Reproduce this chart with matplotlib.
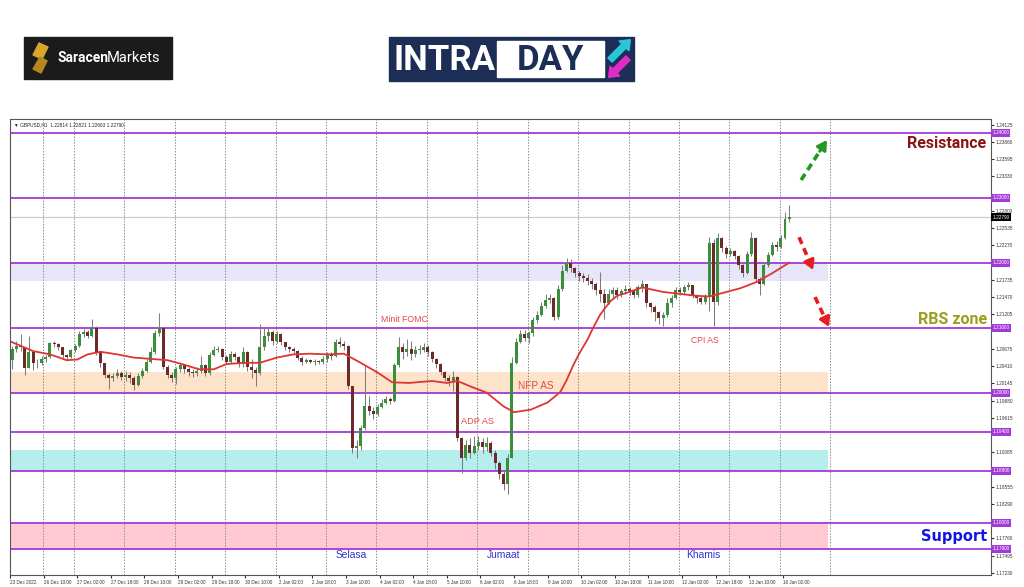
import numpy as np
import matplotlib
matplotlib.use("Agg")
import matplotlib.pyplot as plt
from matplotlib.patches import Rectangle, Polygon, FancyArrow

close_pips = [67, 72, 70, 38, 62, 45, 45, 52, 55, 76,
              75, 70, 58, 55, 65, 72, 90, 94, 88, 100,
              62, 45, 28, 22, 26, 30, 24, 28, 22, 12,
              26, 34, 48, 62, 92, 100, 40, 28, 22, 36,
              42, 36, 32, 30, 34, 42, 30, 58, 66, 68,
              55, 48, 60, 55, 44, 62, 40, 35, 30, 70,
              88, 94, 80, 90, 78, 70, 68, 64, 54, 48,
              50, 48, 49, 47, 52, 58, 56, 78, 75, 72,
              10, -85, -82, -55, -20, -28, -32, -22, -16, -10,
              -12, 42, 70, 62, 68, 60, 66, 66, 70, 62,
              52, 44, 32, 22, 18, 24, -70, -100, -80, -92,
              -82, -76, -84, -78, -92, -108, -125, -140, -100, 46,
              78, 90, 84, 92, 112, 120, 134, 142, 146, 116,
              160, 188, 200, 192, 184, 180, 176, 172, 168, 158,
              152, 138, 152, 158, 150, 156, 160, 156, 150, 162,
              168, 138, 132, 124, 115, 120, 138, 145, 158, 155,
              162, 165, 150, 145, 140, 148, 230, 140, 238, 222,
              214, 218, 210, 196, 184, 214, 238, 175, 168, 196,
              212, 228, 224, 238, 268, 270]
high_pips = [72, 80, 90, 70, 88, 64, 52, 56, 58, 78,
             80, 77, 70, 60, 68, 75, 95, 98, 97, 113,
             102, 62, 46, 30, 31, 36, 34, 33, 32, 26,
             30, 38, 52, 70, 96, 123, 100, 42, 32, 40,
             46, 44, 40, 36, 40, 56, 44, 62, 72, 72,
             69, 58, 64, 62, 56, 70, 64, 52, 40, 105,
             100, 100, 97, 95, 92, 78, 72, 70, 66, 56,
             53, 52, 52, 51, 56, 62, 62, 82, 85, 80,
             74, 10, -72, -50, 41, -5, -22, -18, -10, -5,
             -6, 46, 85, 76, 82, 80, 72, 74, 76, 74,
             64, 54, 46, 34, 28, 33, 26, -68, -72, -70,
             -67, -67, -70, -68, -75, -88, -105, -120, -95, 55,
             84, 96, 97, 95, 116, 126, 140, 152, 152, 148,
             166, 196, 208, 205, 194, 188, 184, 182, 176, 170,
             185, 160, 160, 162, 162, 160, 166, 162, 160, 166,
             174, 168, 140, 135, 126, 124, 146, 150, 162, 163,
             166, 170, 166, 152, 150, 152, 240, 236, 245, 240,
             225, 222, 220, 212, 198, 218, 248, 240, 178, 200,
             216, 232, 233, 242, 278, 289]
low_pips = [36, 62, 64, 28, 38, 35, 38, 42, 48, 53,
            71, 66, 54, 50, 53, 63, 70, 86, 84, 86,
            58, 40, 22, 5, 18, 22, 20, 18, 15, 4,
            10, 22, 32, 46, 60, 88, 36, 22, 16, 13,
            32, 30, 26, 24, 26, 30, 25, 28, 56, 62,
            50, 44, 46, 50, 40, 40, 34, 22, 10, 28,
            65, 80, 74, 76, 74, 66, 62, 60, 50, 42,
            46, 45, 42, 44, 44, 48, 50, 55, 70, 66,
            5, -92, -100, -88, -58, -35, -40, -36, -24, -18,
            -18, -14, 40, 52, 56, 50, 55, 60, 62, 56,
            48, 38, 28, 18, 10, 3, -74, -123, -104, -100,
            -95, -88, -92, -90, -98, -118, -132, -150, -156, -100,
            44, 76, 80, 77, 88, 108, 118, 130, 138, 112,
            114, 156, 185, 186, 178, 172, 170, 166, 160, 150,
            140, 113, 136, 146, 144, 148, 152, 150, 146, 148,
            155, 132, 124, 110, 106, 102, 116, 132, 144, 150,
            152, 158, 146, 138, 136, 136, 125, 102, 135, 216,
            208, 210, 206, 190, 178, 182, 210, 170, 150, 165,
            194, 210, 218, 222, 236, 262]
first_open_pips = 50

# red moving average, read at a few hours
ma_hours = [0.8, 11, 19, 27, 32, 37, 43, 51, 59, 67, 75, 82, 90, 97, 103, 111, 119,
            127, 135, 143, 151, 159, 167, 175, 182, 190, 201, 208, 213, 219, 227, 235,
            240, 248, 256, 262, 265, 268, 271, 275, 278, 281, 284, 286, 289, 294, 301,
            311, 319, 327, 333, 340, 348, 356, 363, 371]
ma_price = [1.2078, 1.2064, 1.2059, 1.2050, 1.2051, 1.2059, 1.2063, 1.2059, 1.2054,
            1.2052, 1.2050, 1.2044, 1.2036, 1.2036, 1.2044, 1.2046, 1.2046, 1.2054,
            1.2059, 1.2060, 1.2059, 1.2060, 1.2046, 1.2031, 1.2016, 1.2015, 1.2018,
            1.2015, 1.2018, 1.2010, 1.2000, 1.1979, 1.1970, 1.1974, 1.1985, 1.2001,
            1.2019, 1.2041, 1.2060, 1.2082, 1.2102, 1.2120, 1.2133, 1.2141, 1.2149,
            1.2154, 1.2162, 1.2155, 1.2152, 1.2149, 1.2148, 1.2154, 1.2161, 1.2171,
            1.2184, 1.2200]

levels = [1.24, 1.23, 1.22, 1.21, 1.20, 1.194, 1.188, 1.18, 1.176]
zone_low = [1.2172, 1.2000, 1.1880, 1.1760]
zone_high = [1.2200, 1.2032, 1.1912, 1.1800]
zone_colors = ['#e6e6f8', '#fde3c9', '#b6eeee', '#ffc8d2']
last_price = 1.2270
last_label = '1.22790'

# price scale labels (those hidden under the level boxes are left out)
price_ticks = [1.17230, 1.17495, 1.17760, 1.18290, 1.18555, 1.19085,
               1.19615, 1.19880, 1.20145, 1.20410, 1.20675, 1.21205,
               1.21470, 1.21735, 1.22270, 1.22535, 1.22800, 1.23330,
               1.23595, 1.23860, 1.24125]
time_labels = ['23 Dec 2022', '26 Dec 10:00', '27 Dec 02:00', '27 Dec 18:00', '28 Dec 10:00',
               '29 Dec 02:00', '29 Dec 18:00', '30 Dec 10:00', '2 Jan 02:00', '2 Jan 18:00',
               '3 Jan 10:00', '4 Jan 02:00', '4 Jan 18:00', '5 Jan 10:00', '6 Jan 02:00',
               '6 Jan 18:00', '9 Jan 10:00', '10 Jan 02:00', '10 Jan 18:00', '11 Jan 10:00',
               '12 Jan 02:00', '12 Jan 18:00', '13 Jan 10:00', '16 Jan 02:00']

# ---------------------------------------------------------------
W, H = 1024, 587
fig = plt.figure(figsize=(W / 100, H / 100), dpi=100)
fig.patch.set_facecolor('white')
small = 'Liberation Sans'

def fx(x):
    return x / W

def fy(y):
    return 1 - y / H

# logos layer in pixel coords
bg = fig.add_axes([0, 0, 1, 1], zorder=-1)
bg.set_xlim(0, W)
bg.set_ylim(H, 0)
bg.axis('off')

bg.add_patch(Rectangle((24, 37), 148, 42, color='#1b1b1b'))
bg.add_patch(Polygon([(39, 43), (48, 47), (42, 59), (33, 55)], color='#d9a62e'))
bg.add_patch(Polygon([(40, 57), (47, 61), (41, 73), (33, 69)], color='#b8861f'))
fig.text(fx(57), fy(58), 'Saracen', color='white', fontsize=10, fontweight='bold',
         family='Roboto', va='center')
fig.text(fx(107), fy(58), 'Markets', color='white', fontsize=10.6, family='Roboto', va='center')

bg.add_patch(Rectangle((389, 37), 245, 44, color='#1c2e55'))
bg.add_patch(Rectangle((497, 41), 107, 36, color='white'))
fig.text(fx(445), fy(60), 'INTRA', color='white', fontsize=25, fontweight='bold',
         family='Roboto', ha='center', va='center')
fig.text(fx(550), fy(60), 'DAY', color='#1c2e55', fontsize=25, fontweight='bold',
         family='Roboto', ha='center', va='center')
bg.add_patch(FancyArrow(610, 60, 14, -14, width=6, head_width=14, head_length=9,
                        length_includes_head=False, color='#2bc4d8'))
bg.add_patch(FancyArrow(628, 58, -13, 13, width=6, head_width=14, head_length=9,
                        length_includes_head=False, color='#e12bc8'))

# main chart
ax = fig.add_axes([fx(10), fy(575), (991 - 10) / W, (575 - 119) / H])
ax.set_xlim(0, 467.1)
ax.set_ylim(1.171954, 1.242108)

closes = 1.2 + np.array(close_pips) / 10000
highs = 1.2 + np.array(high_pips) / 10000
lows = 1.2 + np.array(low_pips) / 10000
opens = np.concatenate([[1.2 + first_open_pips / 10000], closes[:-1]])
highs = np.maximum(highs, np.maximum(opens, closes))
lows = np.minimum(lows, np.minimum(opens, closes))
hours = np.arange(len(closes)) * 2 + 1.0

for lo, hi, col in zip(zone_low, zone_high, zone_colors):
    ax.add_patch(Rectangle((0, lo), 389.5, hi - lo, color=col, zorder=0.5, lw=0))

grid_hours = [15.7] + [30.5 + 24 * k for k in range(16)]
for g in grid_hours:
    ax.axvline(g, color='#8c8c8c', lw=0.7, ls=(0, (1.5, 1.5)), zorder=1)

ax.axhline(last_price, color='#c8c8c8', lw=0.8, zorder=1)
for lv in levels:
    ax.axhline(lv, color='#a23ad6', lw=1.3, zorder=2)

up = closes >= opens
body_col = np.where(up, '#3b8f3b', '#6e2a2a')
ax.vlines(hours, lows, highs, color='#7e7e7e', lw=0.75, zorder=3)
ax.bar(hours, np.maximum(np.abs(closes - opens), 0.00005), bottom=np.minimum(opens, closes),
       width=1.4, color=body_col, zorder=4, lw=0)

ax.plot(ma_hours, ma_price, color='#e03434', lw=1.3, zorder=5)

# event notes
note_kw = dict(color='#e04a4a', family=small, ha='center', va='center', zorder=6)
ax.text(188, 1.2112, 'Minit FOMC', fontsize=6.3, **note_kw)
ax.text(250.4, 1.2011, 'NFP AS', fontsize=7.2, **note_kw)
ax.text(222.4, 1.1956, 'ADP AS', fontsize=6.6, **note_kw)
ax.text(331, 1.2080, 'CPI AS', fontsize=6.2, **note_kw)
day_kw = dict(color='#3434c4', family=small, fontsize=7.4, ha='center', va='center')
ax.text(162.4, 1.1750, 'Selasa', **day_kw)
ax.text(235.2, 1.1750, 'Jumaat', **day_kw)
ax.text(330, 1.1750, 'Khamis', **day_kw)

# dashed direction arrows
def dashed_arrow(x0, y0, x1, y1, col):
    xm = x0 + (x1 - x0) * 0.72
    ym = y0 + (y1 - y0) * 0.72
    ax.plot([x0, xm], [y0, ym], color=col, lw=2.6, ls=(0, (2.0, 1.3)), zorder=7,
            solid_capstyle='butt', dash_capstyle='butt')
    ax.annotate('', xy=(x1, y1), xytext=(xm, ym),
                arrowprops=dict(arrowstyle='-|>,head_length=0.55,head_width=0.32',
                                color=col, lw=2.2, shrinkA=0, shrinkB=0), zorder=7)

dashed_arrow(376.7, 1.23272, 389.0, 1.23888, '#1f9a1f')
dashed_arrow(375.7, 1.22392, 382.4, 1.21888, '#e81c1c')
dashed_arrow(383.3, 1.21472, 390.0, 1.21011, '#e81c1c')

# axes styling
for s in ax.spines.values():
    s.set_color('#555555')
    s.set_linewidth(0.8)
ax.yaxis.tick_right()
ax.set_yticks(price_ticks)
ax.set_yticklabels([f'{p:.5f}' for p in price_ticks], family=small)
ax.tick_params(axis='y', labelsize=3.4, length=2, pad=1.5, colors='#333333')
ax.set_xticks([16 * i for i in range(len(time_labels))])
ax.set_xticklabels(time_labels, family=small)
ax.tick_params(axis='x', labelsize=3.3, length=2, pad=1.8, colors='#333333')
for lab in ax.get_xticklabels():
    lab.set_ha('left')

ytr = ax.get_yaxis_transform()
for lv in levels:
    ax.text(1.0012, lv, f'{lv:.5f}', transform=ytr, fontsize=3.4, color='white',
            family=small, va='center', ha='left', zorder=8, clip_on=False,
            bbox=dict(boxstyle='square,pad=0.3', fc='#a23ad6', ec='none'))
ax.text(1.0012, last_price, last_label, transform=ytr, fontsize=3.4, color='white',
        family=small, va='center', ha='left', zorder=8, clip_on=False,
        bbox=dict(boxstyle='square,pad=0.3', fc='black', ec='none'))

ax.text(0.004, 0.993, '\u25bc GBPUSD,H1  1.22814 1.22821 1.22663 1.22790',
        transform=ax.transAxes, fontsize=3.4, va='top', ha='left', color='#222222',
        family=['Liberation Sans', 'DejaVu Sans'])

# zone captions on the right
fig.text(fx(986), fy(143), 'Resistance', color='#8b1414', fontsize=11.5,
         fontweight='bold', family='Roboto', ha='right', va='center')
fig.text(fx(987), fy(319), 'RBS zone', color='#9e9e1e', fontsize=11.5,
         fontweight='bold', family='Roboto', ha='right', va='center')
fig.text(fx(987), fy(536), 'Support', color='#1414e6', fontsize=10.5,
         fontweight='bold', family='DejaVu Sans', ha='right', va='center')

fig.savefig('out.png', dpi=100)
